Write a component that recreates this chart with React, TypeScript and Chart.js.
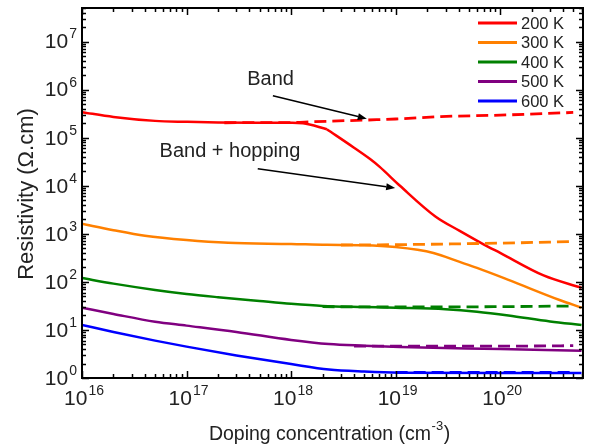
import React, { useEffect, useRef } from "react";
import { Chart, registerables } from "chart.js";

Chart.register(...registerables);

const FONT = "'Liberation Sans', Arial, Helvetica, sans-serif";

// Legend labels and colours
const seriesLabels = ["200 K", "300 K", "400 K", "500 K", "600 K"];
const seriesColors = ["#ff0000", "#ff8000", "#008000", "#800080", "#0000ff"];

// Axis ranges and tick decades
const xMin = 1e16;
const xMax = 6.2e20;
const yMin = 1;
const yMax = 5e7;
const xDecades = [16, 17, 18, 19, 20];
const yDecades = [0, 1, 2, 3, 4, 5, 6, 7];

// 200 K — band + hopping (solid), low-doping part up to the kink
const n200a = [1e16, 2e16, 5e16, 1e17, 2e17, 5e17, 1e18, 1.3e18, 2.2e18];
const r200a = [3.4e5, 2.7e5, 2.24e5, 2.14e5, 2.07e5, 2.05e5, 2.04e5, 2.0e5, 1.5e5];
// 200 K — band + hopping (solid), after the kink
const n200c = [2.2e18, 4e18, 5.7e18, 7e18, 1.1e19, 2.4e19, 4.1e19, 6.8e19, 1e20, 2.6e20, 6e20];
const r200c = [1.5e5, 6.2e4, 3.6e4, 2.5e4, 1e4, 2.3e3, 1.15e3, 620, 400, 136, 75];
// 200 K — band only (dashed)
const n200b = [2.3e17, 1e18, 1.6e18, 6.6e18, 1e19, 2.7e19, 1e20, 5e20];
const r200b = [2.05e5, 2.07e5, 2.15e5, 2.37e5, 2.45e5, 2.75e5, 2.95e5, 3.35e5];

// 300 K
const n300 = [1e16, 2e16, 4e16, 1e17, 2.5e17, 1e18, 2.2e18, 5e18, 1e19, 2.3e19, 4.1e19, 6e19, 1.2e20, 3.7e20, 6e20];
const r300 = [1.62e3, 1.19e3, 910, 740, 650, 615, 590, 580, 530, 400, 260, 195, 110, 42, 29];
const n300b = [3e18, 1e19, 1e20, 5e20];
const r300b = [585, 595, 640, 690];

// 400 K
const n400 = [1e16, 2e16, 5e16, 1e17, 2e17, 5e17, 1e18, 2e18, 5e18, 1e19, 3e19, 6e19, 1.2e20, 3e20, 6e20];
const r400 = [120, 92, 68, 56, 48, 40, 35, 31.6, 30, 29, 27, 24, 20, 15, 12.7];
const n400b = [2e18, 1e19, 1e20, 5e20];
const r400b = [30.5, 30, 30.5, 31.5];

// 500 K
const n500 = [1e16, 2e16, 5e16, 1e17, 3e17, 1e18, 2.3e18, 5e18, 1.1e19, 1e20, 6e20];
const r500 = [29, 21.5, 14.8, 12.3, 9.1, 6.2, 5.1, 4.7, 4.4, 4.0, 3.7];
const n500b = [4e18, 1e19, 1e20, 5e20];
const r500b = [4.6, 4.6, 4.6, 4.7];

// 600 K
const n600 = [1e16, 2e16, 5e16, 1e17, 3e17, 1e18, 2.3e18, 5e18, 1.1e19, 1e20, 6e20];
const r600 = [12.7, 9.1, 6.0, 4.5, 2.95, 1.95, 1.5, 1.36, 1.29, 1.27, 1.27];
const n600b = [1e19, 1e20, 5e20];
const r600b = [1.3, 1.3, 1.3];

// Annotations (data coordinates)
const bandText = { label: "Band", x: 6.37e17, y: 1.6e6 };
const bandArrow = { x0: 6.7e17, y0: 7.5e5, x1: 5.3e18, y1: 2.49e5 };
const hopText = { label: "Band + hopping", x: 2.6e17, y: 5.1e4 };
const hopArrow = { x0: 4.8e17, y0: 2.26e4, x1: 9.9e18, y1: 8.95e3 };

const pts = (ns: number[], rs: number[]) => ns.map((n, i) => ({ x: n, y: rs[i] }));

function drawSup(ctx: CanvasRenderingContext2D, base: string, sup: string, x: number, y: number, align: "left" | "center" | "right", baseSize: number, supSize: number) {
  ctx.font = `${baseSize}px ${FONT}`;
  const wb = ctx.measureText(base).width;
  ctx.font = `${supSize}px ${FONT}`;
  const ws = ctx.measureText(sup).width;
  const total = wb + ws + 1;
  let left = x;
  if (align === "center") left = x - total / 2;
  if (align === "right") left = x - total;
  ctx.textAlign = "left";
  ctx.textBaseline = "middle";
  ctx.font = `${baseSize}px ${FONT}`;
  ctx.fillText(base, left, y);
  ctx.font = `${supSize}px ${FONT}`;
  ctx.fillText(sup, left + wb + 1, y - baseSize * 0.38);
}

function arrow(ctx: CanvasRenderingContext2D, x0: number, y0: number, x1: number, y1: number) {
  const ang = Math.atan2(y1 - y0, x1 - x0);
  const hl = 9, hw = 3.5;
  const bx = x1 - hl * Math.cos(ang), by = y1 - hl * Math.sin(ang);
  ctx.strokeStyle = "#000";
  ctx.lineWidth = 1.5;
  ctx.beginPath();
  ctx.moveTo(x0, y0);
  ctx.lineTo(bx, by);
  ctx.stroke();
  ctx.fillStyle = "#000";
  ctx.beginPath();
  ctx.moveTo(x1, y1);
  ctx.lineTo(bx + hw * Math.sin(ang), by - hw * Math.cos(ang));
  ctx.lineTo(bx - hw * Math.sin(ang), by + hw * Math.cos(ang));
  ctx.closePath();
  ctx.fill();
}

const decor = {
  id: "decor",
  afterDatasetsDraw(chart: any) {
    const { ctx, chartArea: a, scales } = chart;
    const xs = scales.x, ys = scales.y;
    ctx.save();
    // frame
    ctx.strokeStyle = "#000";
    ctx.lineWidth = 2;
    ctx.strokeRect(a.left, a.top, a.right - a.left, a.bottom - a.top);

    // ticks
    ctx.lineWidth = 1.5;
    const majorLen = 7, minorLen = 4;
    for (let d = 16; d <= 20; d++) {
      for (let k = 1; k <= 9; k++) {
        const v = k * Math.pow(10, d);
        if (v < xMin || v > xMax) continue;
        const px = Math.round(xs.getPixelForValue(v)) + 0.5;
        const len = k === 1 ? majorLen : minorLen;
        ctx.beginPath();
        ctx.moveTo(px, a.bottom); ctx.lineTo(px, a.bottom - len);
        ctx.moveTo(px, a.top); ctx.lineTo(px, a.top + len);
        ctx.stroke();
      }
    }
    for (let d = 0; d <= 7; d++) {
      for (let k = 1; k <= 9; k++) {
        const v = k * Math.pow(10, d);
        if (v < yMin || v > yMax) continue;
        const py = Math.round(ys.getPixelForValue(v)) + 0.5;
        const len = k === 1 ? majorLen : minorLen;
        ctx.beginPath();
        ctx.moveTo(a.left, py); ctx.lineTo(a.left + len, py);
        ctx.moveTo(a.right, py); ctx.lineTo(a.right - len, py);
        ctx.stroke();
      }
    }

    // tick labels
    ctx.fillStyle = "#222";
    xDecades.forEach((d) => {
      const px = xs.getPixelForValue(Math.pow(10, d));
      drawSup(ctx, "10", String(d), px + 2, a.bottom + 21, "center", 21, 14);
    });
    yDecades.forEach((d) => {
      const py = ys.getPixelForValue(Math.pow(10, d));
      drawSup(ctx, "10", String(d), a.left - 5, py + 1, "right", 21, 14);
    });

    // axis titles
    ctx.fillStyle = "#222";
    const t1 = "Doping concentration (cm";
    const t2 = "-3";
    const t3 = ")";
    ctx.font = `19.5px ${FONT}`;
    const w1 = ctx.measureText(t1).width;
    const w3 = ctx.measureText(t3).width;
    ctx.font = `13px ${FONT}`;
    const w2 = ctx.measureText(t2).width;
    const tot = w1 + w2 + w3 + 1;
    const cx = (a.left + a.right) / 2 - 3;
    const lx = cx - tot / 2;
    const by = 440;
    ctx.textAlign = "left";
    ctx.textBaseline = "alphabetic";
    ctx.font = `19.5px ${FONT}`;
    ctx.fillText(t1, lx, by);
    ctx.font = `13px ${FONT}`;
    ctx.fillText(t2, lx + w1 + 0.5, by - 10);
    ctx.font = `19.5px ${FONT}`;
    ctx.fillText(t3, lx + w1 + w2 + 1, by);

    ctx.save();
    ctx.translate(27, (a.top + a.bottom) / 2 + 1);
    ctx.rotate(-Math.PI / 2);
    ctx.textAlign = "center";
    ctx.textBaseline = "middle";
    ctx.font = `22px ${FONT}`;
    ctx.fillText("Resistivity (\u03A9.cm)", 0, 0);
    ctx.restore();

    // legend
    seriesLabels.forEach((lab, i) => {
      const yy = a.top + 15 + i * 19.5;
      ctx.strokeStyle = seriesColors[i];
      ctx.lineWidth = 3;
      ctx.beginPath();
      ctx.moveTo(a.right - 105, yy);
      ctx.lineTo(a.right - 66, yy);
      ctx.stroke();
      ctx.fillStyle = "#222";
      ctx.font = `16.5px ${FONT}`;
      ctx.textAlign = "left";
      ctx.textBaseline = "middle";
      ctx.fillText(lab, a.right - 62, yy + 1);
    });

    // annotations
    ctx.fillStyle = "#222";
    ctx.font = `20px ${FONT}`;
    ctx.textAlign = "center";
    ctx.textBaseline = "middle";
    ctx.fillText(bandText.label, xs.getPixelForValue(bandText.x), ys.getPixelForValue(bandText.y));
    ctx.fillText(hopText.label, xs.getPixelForValue(hopText.x), ys.getPixelForValue(hopText.y));
    arrow(ctx, xs.getPixelForValue(bandArrow.x0), ys.getPixelForValue(bandArrow.y0), xs.getPixelForValue(bandArrow.x1), ys.getPixelForValue(bandArrow.y1));
    arrow(ctx, xs.getPixelForValue(hopArrow.x0), ys.getPixelForValue(hopArrow.y0), xs.getPixelForValue(hopArrow.x1), ys.getPixelForValue(hopArrow.y1));
    ctx.restore();
  },
};

export default function App() {
  const ref = useRef<HTMLCanvasElement | null>(null);
  useEffect(() => {
    if (!ref.current) return;
    const solid = (data: any, c: string) => ({ data, borderColor: c, borderWidth: 2.5, pointRadius: 0, fill: false, cubicInterpolationMode: "monotone" as const });
    const dashed = (data: any, c: string) => ({ data, borderColor: c, borderWidth: 2.8, borderDash: [12, 6], pointRadius: 0, fill: false, cubicInterpolationMode: "monotone" as const });
    const chart = new Chart(ref.current, {
      type: "line",
      data: {
        datasets: [
          dashed(pts(n200b, r200b), seriesColors[0]),
          dashed(pts(n300b, r300b), seriesColors[1]),
          dashed(pts(n400b, r400b), seriesColors[2]),
          dashed(pts(n500b, r500b), seriesColors[3]),
          dashed(pts(n600b, r600b), seriesColors[4]),
          solid(pts(n200a, r200a), seriesColors[0]),
          solid(pts(n200c, r200c), seriesColors[0]),
          solid(pts(n300, r300), seriesColors[1]),
          solid(pts(n400, r400), seriesColors[2]),
          solid(pts(n500, r500), seriesColors[3]),
          solid(pts(n600, r600), seriesColors[4]),
        ],
      },
      options: {
        animation: false,
        responsive: false,
        layout: { padding: { left: 82, right: 13, top: 8, bottom: 70 } },
        scales: {
          x: { type: "logarithmic", min: xMin, max: xMax, display: false },
          y: { type: "logarithmic", min: yMin, max: yMax, display: false },
        },
        plugins: { legend: { display: false }, tooltip: { enabled: false } },
      },
      plugins: [decor],
    });
    return () => chart.destroy();
  }, []);
  return (
    <div style={{ position: "fixed", left: 0, top: 0, width: 596, height: 448, background: "#fff" }}>
      <canvas ref={ref} width={596} height={448} />
    </div>
  );
}
